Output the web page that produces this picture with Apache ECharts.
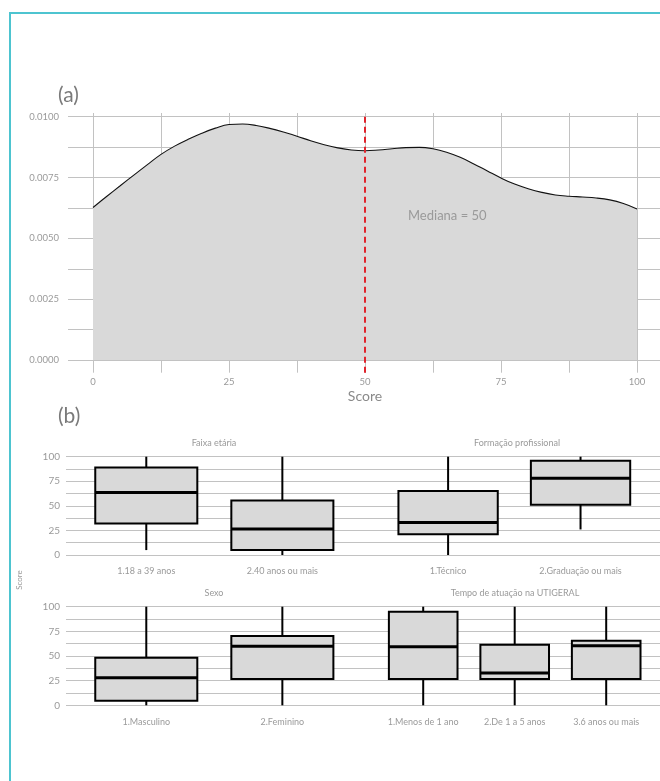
<!DOCTYPE html>
<html>
<head>
<meta charset="utf-8">
<script src="https://cdn.jsdelivr.net/npm/echarts@6/dist/echarts.min.js"></script>
<style>
html,body{margin:0;padding:0;background:#fff;}
#chart{width:660px;height:781px;}
</style>
</head>
<body>
<div id="chart"></div>
<script>
// ---- Data ----
const densityX = [0,2.5,5,7.5,10,12.5,15,17.5,20,22.5,25,27.5,30,32.5,35,37.5,40,42.5,45,47.5,50,52.5,55,57.5,60,62.5,65,67.5,70,72.5,75,77.5,80,82.5,85,87.5,90,92.5,95,97.5,100];
const densityY = [0.00627,0.00672,0.00716,0.00760,0.00803,0.00845,0.00879,0.00907,0.00932,0.00953,0.00968,0.00970,0.00964,0.00952,0.00937,0.00920,0.00901,0.00885,0.00872,0.00863,0.00860,0.00863,0.00868,0.00873,0.00874,0.00868,0.00854,0.00833,0.00806,0.00777,0.00748,0.00723,0.00704,0.00689,0.00678,0.00673,0.00670,0.00666,0.00658,0.00643,0.00621];
const medianScore = 50;
const densityTicks = [0,0.0025,0.005,0.0075,0.01];
const scoreTicks = [0,25,50,75,100];

// box stats: [min, Q1, median, Q3, max]
const faixaCats = ['1.18 a 39 anos','2.40 anos ou mais'];
const faixaStats = [[5,32,63.5,89,100],[0,5,26.5,55.5,100]];
const formacaoCats = ['1.Técnico','2.Graduação ou mais'];
const formacaoStats = [[0,21,33,65,100],[26,51,78,96,100]];
const sexoCats = ['1.Masculino','2.Feminino'];
const sexoStats = [[0,4.7,28,48.3,100],[0,26.7,60,70.3,100]];
const tempoCats = ['1.Menos de 1 ano','2.De 1 a 5 anos','3.6 anos ou mais'];
const tempoStats = [[0,26.7,59.5,95,100],[0,26.7,32.8,61.5,100],[0,26.7,60.5,65.5,100]];
const boxTicks = [0,25,50,75,100];

// ---- Layout / style ----
const FONT = 'Lato, "Open Sans", sans-serif';
const GRID_COLOR = '#c2c2c2';
const LABEL_COLOR = '#9a9a9a';
const FILL = '#d9d9d9';

const facets = [
  {title:'Faixa etária', cats:faixaCats, stats:faixaStats, grid:{left:66, top:456.7, width:298, height:98.3}, min:0.41, max:2.6, showY:true, titleX:214, titleY:443},
  {title:'Formação profissional', cats:formacaoCats, stats:formacaoStats, grid:{left:364, top:456.7, width:300, height:98.3}, min:0.365, max:2.6, showY:false, titleX:517, titleY:443},
  {title:'Sexo', cats:sexoCats, stats:sexoStats, grid:{left:66, top:606.7, width:298, height:98.6}, min:0.41, max:2.6, showY:true, titleX:214, titleY:593},
  {title:'Tempo de atuação na UTIGERAL', cats:tempoCats, stats:tempoStats, grid:{left:364, top:606.7, width:300, height:98.6}, min:0.353, max:3.588, showY:false, titleX:515, titleY:593}
];

const grids = [];
const xAxes = [];
const yAxes = [];
const series = [];

// Grid 0: horizontal gridlines + y labels for density
grids.push({left:68, right:-10, top:116.7, bottom:781-360});
xAxes.push({gridIndex:0, type:'value', min:0, max:100, show:false});
yAxes.push({gridIndex:0, type:'value', min:0, max:0.01, interval:0.00125,
  axisLine:{show:false}, axisTick:{show:false},
  splitLine:{show:true, lineStyle:{color:GRID_COLOR, width:1}},
  axisLabel:{margin:9, color:LABEL_COLOR, fontSize:9.5, fontFamily:FONT,
    formatter: v => densityTicks.some(t => Math.abs(t - v) < 1e-9) ? v.toFixed(4) : ''}
});

// Grid 1: density series with vertical gridlines
const yMinB = -12.7/24330, yMaxB = 0.01 + 3.7/24330;
grids.push({left:93, width:544, top:113, bottom:781-372.7});
xAxes.push({gridIndex:1, type:'value', min:0, max:100, interval:12.5,
  axisLine:{show:false}, axisTick:{show:false},
  splitLine:{show:true, lineStyle:{color:GRID_COLOR, width:1}},
  axisLabel:{margin:4, color:LABEL_COLOR, fontSize:9.5, fontFamily:FONT,
    formatter: v => scoreTicks.some(t => Math.abs(t - v) < 1e-9) ? String(v) : ''}
});
yAxes.push({gridIndex:1, type:'value', min:yMinB, max:yMaxB, show:false, splitLine:{show:false}});
series.push({
  type:'line', xAxisIndex:1, yAxisIndex:1,
  data: densityX.map((x,i)=>[x, densityY[i]]),
  smooth:0.4, symbol:'none',
  lineStyle:{color:'#111', width:1.1},
  areaStyle:{color:FILL, opacity:1, origin:0},
  z:3,
  markLine:{
    silent:true, symbol:'none',
    lineStyle:{color:'#e0242c', type:[6,4], width:2},
    label:{show:false},
    data:[{xAxis:medianScore}]
  }
});

function boxRender(params, api) {
  const x = api.value(0), lo = api.value(1), q1 = api.value(2), med = api.value(3), q3 = api.value(4), hi = api.value(5);
  const hw = 0.375;
  const pLo = api.coord([x, lo]), pHi = api.coord([x, hi]);
  const pA = api.coord([x - hw, q1]), pB = api.coord([x + hw, q3]);
  const pM1 = api.coord([x - hw, med]), pM2 = api.coord([x + hw, med]);
  return {type:'group', children:[
    {type:'line', shape:{x1:pLo[0], y1:pLo[1], x2:pHi[0], y2:pHi[1]}, style:{stroke:'#000', lineWidth:2}},
    {type:'rect', shape:{x:pA[0], y:pB[1], width:pB[0]-pA[0], height:pA[1]-pB[1]}, style:{fill:FILL, stroke:'#000', lineWidth:2}},
    {type:'line', shape:{x1:pM1[0], y1:pM1[1], x2:pM2[0], y2:pM2[1]}, style:{stroke:'#000', lineWidth:3}}
  ]};
}

const graphics = [
  {type:'rect', z:100, shape:{x:10, y:13, width:700, height:800}, style:{fill:'none', stroke:'#4dc4d0', lineWidth:2}, silent:true},
  {type:'text', z:100, x:58, y:95, style:{text:'(a)', font:'21px ' + FONT, fill:'#7a7a7a', textVerticalAlign:'middle'}},
  {type:'text', z:100, x:58, y:416, style:{text:'(b)', font:'21px ' + FONT, fill:'#7a7a7a', textVerticalAlign:'middle'}},
  {type:'text', z:100, x:365, y:396, style:{text:'Score', font:'14px ' + FONT, fill:'#8a8a8a', textAlign:'center', textVerticalAlign:'middle'}},
  {type:'text', z:100, x:408, y:215.5, style:{text:'Mediana = ' + medianScore, font:'13px ' + FONT, fill:'#9a9a9a', textVerticalAlign:'middle'}},
  {type:'text', z:100, x:19, y:580, rotation:Math.PI/2, style:{text:'Score', font:'8px ' + FONT, fill:'#9a9a9a', textAlign:'center', textVerticalAlign:'middle'}}
];

facets.forEach((f, k) => {
  const gi = grids.length;
  grids.push(Object.assign({}, f.grid));
  const cats = f.cats;
  xAxes.push({gridIndex:gi, type:'value', min:f.min, max:f.max,
    axisLine:{show:false}, axisTick:{show:false}, splitLine:{show:false},
    axisLabel:{customValues: cats.map((c,i)=>i+1), margin:12, color:LABEL_COLOR, fontSize:9, fontFamily:FONT,
      formatter: v => cats[Math.round(v)-1] || ''}
  });
  yAxes.push({gridIndex:gi, type:'value', min:0, max:100, interval:12.5,
    axisLine:{show:false}, axisTick:{show:false},
    splitLine:{show:true, lineStyle:{color:GRID_COLOR, width:1}},
    axisLabel:{show:f.showY, margin:6, color:LABEL_COLOR, fontSize:10, fontFamily:FONT,
      formatter: v => boxTicks.some(t => Math.abs(t - v) < 1e-9) ? String(v) : ''}
  });
  series.push({
    type:'custom', xAxisIndex:gi, yAxisIndex:gi, clip:false,
    renderItem: boxRender,
    encode:{x:0, y:[1,2,3,4,5]},
    data: f.stats.map((s,i)=>[i+1].concat(s)),
    z:3
  });
  graphics.push({type:'text', z:100, x:f.titleX, y:f.titleY, style:{text:f.title, font:'9px ' + FONT, fill:LABEL_COLOR, textAlign:'center', textVerticalAlign:'middle'}});
});

const chart = echarts.init(document.getElementById('chart'), null, {renderer:'canvas'});
chart.setOption({
  animation:false,
  backgroundColor:'#fff',
  textStyle:{fontFamily:FONT},
  grid:grids, xAxis:xAxes, yAxis:yAxes, series:series,
  graphic:graphics
});
</script>
</body>
</html>
